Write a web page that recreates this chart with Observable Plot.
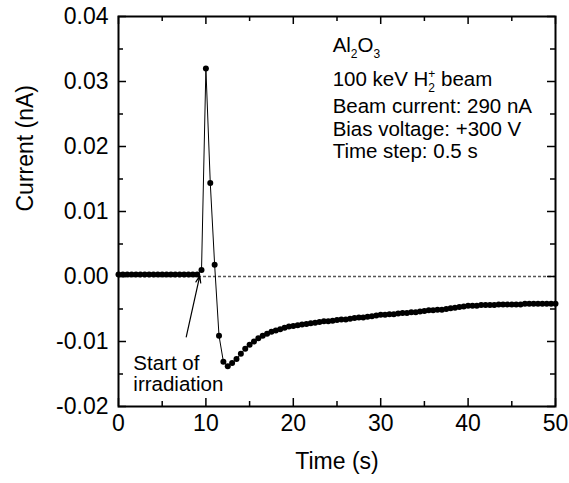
<!DOCTYPE html>
<html>
<head>
<meta charset="utf-8">
<script src="https://cdn.jsdelivr.net/npm/d3@7"></script>
<script src="https://cdn.jsdelivr.net/npm/@observablehq/plot@0.6"></script>
<style>
html,body{margin:0;padding:0;background:#fff;}
svg{display:block;}
</style>
</head>
<body>
<script>
const timeS = [0,0.5,1,1.5,2,2.5,3,3.5,4,4.5,5,5.5,6,6.5,7,7.5,8,8.5,9,
  9.5,10,10.5,11,11.5,12,12.5,13,13.5,14,14.5,15,15.5,16,16.5,17,17.5,18,18.5,19,19.5,20,
  20.5,21,21.5,22,22.5,23,23.5,24,24.5,25,25.5,26,26.5,27,27.5,28,28.5,29,29.5,30,
  30.5,31,31.5,32,32.5,33,33.5,34,34.5,35,35.5,36,36.5,37,37.5,38,38.5,39,39.5,40,
  40.5,41,41.5,42,42.5,43,43.5,44,44.5,45,45.5,46,46.5,47,47.5,48,48.5,49,49.5,50];
const currentNA = [0.0003,0.0003,0.0003,0.0003,0.0003,0.0003,0.0003,0.0003,0.0003,0.0003,0.0003,0.0003,0.0003,0.0003,0.0003,0.0003,0.0003,0.0003,0.0003,
  0.0010,0.0320,0.0144,0.0018,-0.0091,-0.0131,-0.0138,-0.0133,-0.0127,-0.0119,-0.0111,-0.0105,-0.0100,-0.0095,-0.0091,-0.0088,-0.0085,-0.0083,-0.0081,-0.0079,-0.0077,-0.0076,
  -0.0075,-0.0074,-0.0073,-0.0072,-0.0071,-0.0070,-0.0069,-0.0069,-0.0068,-0.0067,-0.0066,-0.0066,-0.0065,-0.0064,-0.0063,-0.0063,-0.0062,-0.0061,-0.0060,-0.0059,
  -0.0059,-0.0058,-0.0058,-0.0057,-0.0056,-0.0056,-0.0055,-0.0055,-0.0054,-0.0053,-0.0052,-0.0052,-0.0051,-0.0051,-0.0050,-0.0049,-0.0048,-0.0047,-0.0046,-0.0045,
  -0.0045,-0.0045,-0.0044,-0.0044,-0.0044,-0.0044,-0.0043,-0.0043,-0.0043,-0.0043,-0.0043,-0.0043,-0.0042,-0.0042,-0.0042,-0.0042,-0.0042,-0.0042,-0.0042,-0.0042];

const xMajor = [0,10,20,30,40,50];
const xMinor = [5,15,25,35,45];
const yMajor = [-0.02,-0.01,0,0.01,0.02,0.03,0.04];
const yMinor = [-0.015,-0.005,0.005,0.015,0.025,0.035];
const yLabels = ["-0.02","-0.01","0.00","0.01","0.02","0.03","0.04"];

const infoLines = ["Al2O3","100 keV H2+ beam","Beam current: 290 nA","Bias voltage: +300 V","Time step: 0.5 s"];
const infoX = [24.5,24.5,24.5,24.5,24.5];
const infoY = [0.0356,0.0303,0.0261,0.0226,0.0192];
const noteLines = ["Start of","irradiation"];
const noteX = [1.7,1.7];
const noteY = [-0.01334,-0.01666];
const arrowFrom = [7.75,-0.0093];
const arrowTo = [9.3,0.0001];

const data = timeS.map((t,i)=>({t, c: currentNA[i]}));

const W=569,H=483,mL=118,mR=14,mT=16,mB=77;
const pW=W-mL-mR, pH=H-mT-mB;
const FONT="'Liberation Sans', Arial, sans-serif";

const chart = Plot.plot({
  width:W, height:H, marginLeft:mL, marginRight:mR, marginTop:mT, marginBottom:mB,
  x:{domain:[0,50], axis:null},
  y:{domain:[-0.02,0.04], axis:null},
  style:{fontFamily:FONT, background:"#fff", color:"#000", overflow:"visible"},
  marks:[
    Plot.ruleY([0],{stroke:"#555",strokeWidth:1.3,strokeDasharray:"3,2"}),
    Plot.line(data,{x:"t",y:"c",stroke:"#000",strokeWidth:1}),
    Plot.dot(data,{x:"t",y:"c",r:3,fill:"#000",stroke:"none"}),
    Plot.arrow([{a:arrowFrom,b:arrowTo}],{x1:d=>d.a[0],y1:d=>d.a[1],x2:d=>d.b[0],y2:d=>d.b[1],stroke:"#000",strokeWidth:1.2,headLength:9,headAngle:40,bend:0}),
    Plot.ruleX(xMajor,{x:d=>d,insetTop:pH-8,stroke:"#000",strokeWidth:1.5}),
    Plot.ruleX(xMinor,{x:d=>d,insetTop:pH-5,stroke:"#000",strokeWidth:1.5}),
    Plot.ruleX(xMajor,{x:d=>d,insetBottom:pH-8,stroke:"#000",strokeWidth:1.5}),
    Plot.ruleX(xMinor,{x:d=>d,insetBottom:pH-5,stroke:"#000",strokeWidth:1.5}),
    Plot.ruleY(yMajor,{y:d=>d,insetRight:pW-8,stroke:"#000",strokeWidth:1.5}),
    Plot.ruleY(yMinor,{y:d=>d,insetRight:pW-5,stroke:"#000",strokeWidth:1.5}),
    Plot.ruleY(yMajor,{y:d=>d,insetLeft:pW-8,stroke:"#000",strokeWidth:1.5}),
    Plot.ruleY(yMinor,{y:d=>d,insetLeft:pW-5,stroke:"#000",strokeWidth:1.5}),
    Plot.frame({stroke:"#000",strokeWidth:2}),
    Plot.text(xMajor,{x:d=>d,frameAnchor:"bottom",dy:24,text:d=>String(d),fontSize:23,fill:"#000"}),
    Plot.text(yMajor,{y:d=>d,frameAnchor:"left",dx:-10,textAnchor:"end",text:(d,i)=>yLabels[i],fontSize:23,fill:"#000"}),
    Plot.text(["Time (s)"],{frameAnchor:"bottom",dy:62,text:d=>d,fontSize:23,fill:"#000"}),
    Plot.text(["Current (nA)"],{frameAnchor:"left",dx:-93,rotate:-90,text:d=>d,fontSize:23,fill:"#000"}),
    Plot.text(infoLines,{x:(d,i)=>infoX[i],y:(d,i)=>infoY[i],text:d=>d,textAnchor:"start",fontSize:20.5,fill:"#000"}),
    Plot.text(noteLines,{x:(d,i)=>noteX[i],y:(d,i)=>noteY[i],text:d=>d,textAnchor:"start",fontSize:20.5,fill:"#000"})
  ]
});

const NS="http://www.w3.org/2000/svg";
function rebuild(el, parts){
  while(el.firstChild) el.removeChild(el.firstChild);
  for(const p of parts){
    const ts=document.createElementNS(NS,"tspan");
    ts.textContent=p.t;
    if(p.dy!=null) ts.setAttribute("dy",p.dy);
    if(p.dx!=null) ts.setAttribute("dx",p.dx);
    if(p.fs) ts.setAttribute("font-size",p.fs);
    el.appendChild(ts);
  }
}
chart.querySelectorAll("text").forEach(el=>{
  const s=el.textContent;
  if(s==="Al2O3"){
    rebuild(el,[{t:"Al"},{t:"2",dy:6,fs:12},{t:"O",dy:-6},{t:"3",dy:6,fs:12}]);
  } else if(s==="100 keV H2+ beam"){
    rebuild(el,[{t:"100 keV H"},{t:"2",dy:6,fs:12},{t:"+",dx:-6.7,dy:-14.5,fs:12},{t:" beam",dy:8.5}]);
  }
});

document.body.appendChild(chart);
</script>
</body>
</html>
